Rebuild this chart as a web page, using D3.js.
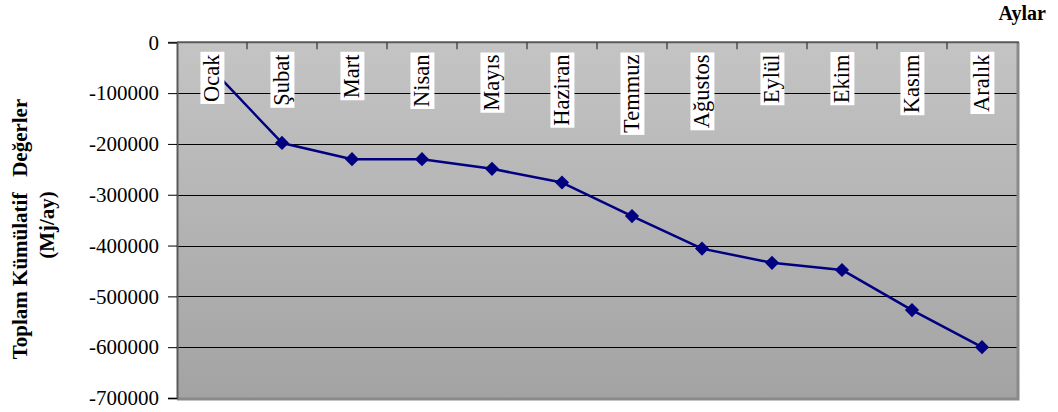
<!DOCTYPE html>
<html>
<head>
<meta charset="utf-8">
<script src="https://cdn.jsdelivr.net/npm/d3@7"></script>
<style>
  html, body { margin: 0; padding: 0; background: #ffffff; }
  svg { display: block; }
  text { font-family: "Liberation Serif", "Times New Roman", serif; }
</style>
</head>
<body>
<svg id="chart" width="1058" height="412"></svg>
<script>
const months = ["Ocak", "Şubat", "Mart", "Nisan", "Mayıs", "Haziran", "Temmuz", "Ağustos", "Eylül", "Ekim", "Kasım", "Aralık"];
const values = [-53000, -198000, -230000, -230000, -249000, -276000, -342000, -406000, -434000, -448000, -527000, -600000];
const yTicks = [0, -100000, -200000, -300000, -400000, -500000, -600000, -700000];
const yTickLabels = ["0", "-100000", "-200000", "-300000", "-400000", "-500000", "-600000", "-700000"];
const yTitle1 = "Toplam Kümülatif   Değerler";
const yTitle2 = "(Mj/ay)";
const xTitle = "Aylar";

const svg = d3.select("#chart");
const L = 177, R = 1017, T = 42.3, B = 398;

const x = d3.scaleBand().domain(months).range([L, R]).paddingInner(0).paddingOuter(0);
const y = d3.scaleLinear().domain([-700000, 0]).range([B, T]);

const defs = svg.append("defs");
const grad = defs.append("linearGradient").attr("id", "bg").attr("x1", 0).attr("y1", 0).attr("x2", 0).attr("y2", 1);
grad.append("stop").attr("offset", "0%").attr("stop-color", "#c4c4c4");
grad.append("stop").attr("offset", "100%").attr("stop-color", "#a3a3a3");

// plot background
svg.append("rect").attr("x", L).attr("y", T).attr("width", R - L).attr("height", B - T).attr("fill", "url(#bg)");

// gridlines
svg.append("g").selectAll("line").data(yTicks.filter(d => d !== 0 && d !== -700000)).join("line")
  .attr("x1", L).attr("x2", R)
  .attr("y1", d => Math.round(y(d)) + 0.5).attr("y2", d => Math.round(y(d)) + 0.5)
  .attr("stroke", "#000").attr("stroke-width", 1);

// right & bottom border (shadow-like)
svg.append("path").attr("d", `M${R + 1},${T} L${R + 1},${B + 1} L${L},${B + 1}`)
  .attr("fill", "none").attr("stroke", "#8a8a8a").attr("stroke-width", 3);

// top x axis with inward ticks at category boundaries
const boundaries = months.map(m => x(m)).concat([R]);
svg.append("line").attr("x1", L).attr("x2", R + 2).attr("y1", T).attr("y2", T).attr("stroke", "#5a5a5a").attr("stroke-width", 2);
svg.append("g").selectAll("line").data(boundaries.slice(1, -1)).join("line")
  .attr("x1", d => d).attr("x2", d => d).attr("y1", T).attr("y2", T + 7)
  .attr("stroke", "#333").attr("stroke-width", 1.2);

// left y axis
const yAxis = d3.axisLeft(y).tickValues(yTicks).tickSize(9).tickPadding(9)
  .tickFormat((d, i) => yTickLabels[i]);
const gy = svg.append("g").attr("transform", `translate(${L},0)`).call(yAxis);
gy.select(".domain").attr("stroke", "#5a5a5a").attr("stroke-width", 2);
gy.selectAll(".tick line").attr("stroke", "#000").attr("stroke-width", 1);
gy.selectAll(".tick text").attr("font-size", 21).attr("fill", "#000");

// line
const line = d3.line().x((d, i) => x(months[i]) + x.bandwidth() / 2).y(d => y(d));
svg.append("path").datum(values).attr("d", line)
  .attr("fill", "none").attr("stroke", "#000080").attr("stroke-width", 2.5).attr("stroke-linejoin", "round");

// diamond markers
svg.append("g").selectAll("path").data(values).join("path")
  .attr("d", d3.symbol(d3.symbolSquare, 100)())
  .attr("transform", (d, i) => `translate(${x(months[i]) + x.bandwidth() / 2},${y(d)}) rotate(45)`)
  .attr("fill", "#000080");

// month labels (rotated, in white boxes)
const lab = svg.append("g").selectAll("g").data(months).join("g")
  .attr("transform", m => `translate(${x(m) + x.bandwidth() / 2},54.5) rotate(-90)`);
lab.append("text")
  .attr("text-anchor", "end").attr("dy", "0.33em")
  .attr("font-size", 22.5).attr("fill", "#000")
  .text(m => m);
lab.each(function () {
  const g = d3.select(this);
  const bb = g.select("text").node().getBBox();
  g.insert("rect", "text")
    .attr("x", bb.x - 2).attr("y", bb.y + 1).attr("width", bb.width + 4).attr("height", bb.height - 1)
    .attr("fill", "#fff");
});

// axis titles
svg.append("text")
  .attr("transform", "translate(27,229) rotate(-90)")
  .attr("text-anchor", "middle").attr("font-weight", "bold").attr("font-size", 21)
  .style("white-space", "pre")
  .text(yTitle1);
svg.append("text")
  .attr("transform", "translate(54,225) rotate(-90)")
  .attr("text-anchor", "middle").attr("font-weight", "bold").attr("font-size", 21)
  .text(yTitle2);
svg.append("text")
  .attr("x", 1046).attr("y", 20)
  .attr("text-anchor", "end").attr("font-weight", "bold").attr("font-size", 20)
  .text(xTitle);
</script>
</body>
</html>
